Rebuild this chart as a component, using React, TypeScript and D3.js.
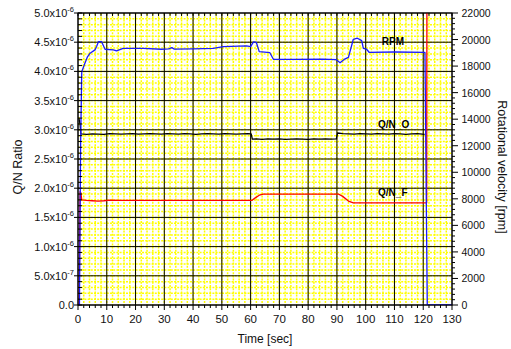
import * as d3 from 'd3';
import React, { useEffect, useRef } from 'react';

// Q/N ratio (x1e-6) and rotor speed over time
const rpmTime = [0, 0.5, 0.9, 1.3, 2.4, 3.3, 4.2, 5.9, 6.5, 7.1, 8.2, 9.4, 12.3, 13.4, 15.7, 22.7, 29, 31.5, 32.6, 33.5, 40, 47, 50.5, 58.6, 60, 61, 62, 63, 66.7, 67.9, 75, 85, 89.8, 91.1, 92.5, 94, 95.7, 97.1, 98.6, 99.2, 100.3, 101.2, 110, 120.6, 121.4, 130];
const rpmValue = [0, 0, 12000, 17580, 18210, 18700, 18970, 19220, 19500, 19840, 19840, 19270, 19220, 19140, 19340, 19340, 19270, 19300, 19390, 19280, 19300, 19340, 19470, 19520, 19470, 19820, 19780, 19090, 19010, 18510, 18500, 18520, 18480, 18260, 18500, 18660, 20020, 20100, 19920, 19340, 19270, 19040, 19060, 19040, 0, 0];

const qnoTime = [0.3, 0.7, 1.0, 3, 5, 7, 9, 11, 13, 15, 17, 19, 21, 23, 25, 27, 29, 31, 33, 35, 37, 39, 41, 43, 45, 47, 49, 51, 53, 55, 57, 59, 60.2, 60.6, 62, 64, 66, 68, 70, 72, 74, 76, 78, 80, 82, 84, 86, 88, 89.8, 90.2, 92, 94, 96, 98, 100, 102, 104, 106, 108, 110, 112, 114, 116, 118, 120.5];
const qnoValue = [3.2, 3.1, 2.93, 2.92, 2.93, 2.925, 2.92, 2.935, 2.93, 2.925, 2.93, 2.935, 2.925, 2.93, 2.935, 2.93, 2.925, 2.935, 2.93, 2.925, 2.935, 2.93, 2.92, 2.93, 2.935, 2.93, 2.925, 2.935, 2.93, 2.925, 2.93, 2.935, 2.93, 2.84, 2.845, 2.835, 2.845, 2.84, 2.845, 2.835, 2.84, 2.845, 2.84, 2.835, 2.845, 2.84, 2.845, 2.84, 2.845, 2.945, 2.935, 2.93, 2.925, 2.935, 2.93, 2.925, 2.935, 2.93, 2.925, 2.935, 2.93, 2.92, 2.93, 2.935, 2.92];

const qnfTime = [0.4, 0.7, 1.0, 1.3, 3, 5, 7, 9, 11, 15, 30, 45, 60.4, 61.5, 63, 64.4, 75, 90.5, 92, 94, 95.7, 110, 121.2, 121.3];
const qnfValue = [0, 1.94, 1.92, 1.8, 1.79, 1.785, 1.78, 1.785, 1.795, 1.793, 1.79, 1.79, 1.79, 1.83, 1.88, 1.9, 1.9, 1.9, 1.86, 1.78, 1.75, 1.75, 1.75, 6];

const xTicks = [0, 10, 20, 30, 40, 50, 60, 70, 80, 90, 100, 110, 120, 130];
const leftTicks = [0, 0.5, 1.0, 1.5, 2.0, 2.5, 3.0, 3.5, 4.0, 4.5, 5.0];
const leftTickText = ['0.0', '5.0x10', '1.0x10', '1.5x10', '2.0x10', '2.5x10', '3.0x10', '3.5x10', '4.0x10', '4.5x10', '5.0x10'];
const leftTickExp = ['', '-7', '-6', '-6', '-6', '-6', '-6', '-6', '-6', '-6', '-6'];
const rightTicks = [0, 2000, 4000, 6000, 8000, 10000, 12000, 14000, 16000, 18000, 20000, 22000];

const seriesLabels = [
    { text: 'RPM', t: 105.6, value: 19590, axis: 'right' },
    { text: 'Q/N_O', t: 104.3, value: 3.026, axis: 'left' },
    { text: 'Q/N_F', t: 104.3, value: 1.866, axis: 'left' },
];

const W = 511, H = 349;
const plot = { left: 78, right: 452, top: 13, bottom: 305 };
const font = '"Liberation Sans", Arial, sans-serif';

export default function App() {
    const svgRef = useRef<SVGSVGElement>(null);

    useEffect(() => {
        const svg = d3.select(svgRef.current);
        svg.selectAll('*').remove();

        const x = d3.scaleLinear().domain([0, 130]).range([plot.left, plot.right]);
        const yL = d3.scaleLinear().domain([0, 5]).range([plot.bottom, plot.top]);
        const yR = d3.scaleLinear().domain([0, 22000]).range([plot.bottom, plot.top]);

        svg.append('defs').append('clipPath').attr('id', 'plotclip')
            .append('rect')
            .attr('x', plot.left).attr('y', plot.top)
            .attr('width', plot.right - plot.left).attr('height', plot.bottom - plot.top);

        // yellow dotted minor mesh
        const mesh = svg.append('g').attr('stroke', '#ffff00').attr('stroke-width', 1.5).attr('stroke-dasharray', '2,1.2');
        mesh.selectAll('line.mx').data(d3.range(1, 65).map(i => i * 2)).enter().append('line')
            .attr('x1', d => x(d)).attr('x2', d => x(d)).attr('y1', plot.top).attr('y2', plot.bottom);
        mesh.selectAll('line.my').data(d3.range(1, 50).map(i => i * 0.1)).enter().append('line')
            .attr('y1', d => yL(d)).attr('y2', d => yL(d)).attr('x1', plot.left).attr('x2', plot.right);

        // major grid
        const grid = svg.append('g').attr('stroke', '#000').attr('stroke-width', 1);
        grid.selectAll('line.gx').data(xTicks).enter().append('line')
            .attr('x1', d => x(d)).attr('x2', d => x(d)).attr('y1', plot.top).attr('y2', plot.bottom);
        grid.selectAll('line.gy').data(leftTicks).enter().append('line')
            .attr('y1', d => yL(d)).attr('y2', d => yL(d)).attr('x1', plot.left).attr('x2', plot.right);

        // series
        const lines = svg.append('g').attr('clip-path', 'url(#plotclip)').attr('fill', 'none')
            .attr('stroke-width', 1.3).attr('stroke-linejoin', 'round');
        const lineL = d3.line<number>().x((d, i) => 0).y(d => 0);
        const path = (ts: number[], vs: number[], y: d3.ScaleLinear<number, number>) =>
            d3.line<number>().x((d, i) => x(ts[i])).y(d => y(d))(vs);
        lines.append('path').attr('stroke', '#000').attr('d', path(qnoTime, qnoValue, yL));
        lines.append('path').attr('stroke', '#ff0000').attr('d', path(qnfTime, qnfValue, yL));
        lines.append('path').attr('stroke', '#1a1aff').attr('d', path(rpmTime, rpmValue, yR));

        // frame + ticks
        const ax = svg.append('g').attr('stroke', '#000').attr('stroke-width', 1);
        ax.append('rect').attr('x', plot.left).attr('y', plot.top)
            .attr('width', plot.right - plot.left).attr('height', plot.bottom - plot.top).attr('fill', 'none');
        const xMinor = d3.range(0, 66).map(i => i * 2);
        ax.selectAll('line.bt').data(xMinor).enter().append('line')
            .attr('x1', d => x(d)).attr('x2', d => x(d))
            .attr('y1', plot.bottom).attr('y2', d => plot.bottom + (d % 10 === 0 ? 5 : 3));
        ax.selectAll('line.tt').data(xMinor).enter().append('line')
            .attr('x1', d => x(d)).attr('x2', d => x(d))
            .attr('y1', plot.top).attr('y2', plot.top + 3);
        const yMinor = d3.range(0, 51).map(i => i * 0.1);
        ax.selectAll('line.lt').data(yMinor).enter().append('line')
            .attr('y1', d => yL(d)).attr('y2', d => yL(d))
            .attr('x1', plot.left).attr('x2', plot.left + 4);
        ax.selectAll('line.lm').data(leftTicks).enter().append('line')
            .attr('y1', d => yL(d)).attr('y2', d => yL(d))
            .attr('x1', plot.left - 4).attr('x2', plot.left);
        const rMinor = d3.range(0, 56).map(i => i * 400);
        ax.selectAll('line.rt').data(rMinor).enter().append('line')
            .attr('y1', d => yR(d)).attr('y2', d => yR(d))
            .attr('x1', plot.right).attr('x2', d => plot.right + (d % 2000 === 0 ? 6 : 3));

        // tick labels
        const txt = svg.append('g').attr('font-family', font).attr('fill', '#111');
        txt.selectAll('text.xl').data(xTicks).enter().append('text')
            .attr('x', d => x(d)).attr('y', plot.bottom + 18)
            .attr('text-anchor', 'middle').attr('font-size', 11.5).text(d => d);
        const lt = txt.selectAll('text.yl').data(leftTicks).enter().append('text')
            .attr('x', plot.left - 4).attr('y', d => yL(d) + 4)
            .attr('text-anchor', 'end').attr('font-size', 11);
        lt.append('tspan').text((d, i) => leftTickText[i]);
        lt.append('tspan').attr('dy', -5).attr('font-size', 7.5).text((d, i) => leftTickExp[i]);
        txt.selectAll('text.yr').data(rightTicks).enter().append('text')
            .attr('x', plot.right + 9.5).attr('y', d => yR(d) + 4)
            .attr('font-size', 10.5).text(d => d);

        // axis titles
        txt.append('text').attr('x', 265).attr('y', 343).attr('text-anchor', 'middle')
            .attr('font-size', 12).text('Time [sec]');
        txt.append('text').attr('transform', 'translate(22,167) rotate(-90)').attr('text-anchor', 'middle')
            .attr('font-size', 12.5).text('Q/N Ratio');
        txt.append('text').attr('transform', 'translate(498,167) rotate(90)').attr('text-anchor', 'middle')
            .attr('font-size', 12.5).text('Rotational velocity [rpm]');

        // series annotations
        txt.selectAll('text.sl').data(seriesLabels).enter().append('text')
            .attr('x', d => x(d.t)).attr('y', d => (d.axis === 'left' ? yL(d.value) : yR(d.value)))
            .attr('font-size', 10).attr('font-weight', 'bold').attr('fill', '#000').text(d => d.text);
    }, []);

    return (
        <div style={{ position: 'absolute', left: 0, top: 0 }}>
            <svg ref={svgRef} width={W} height={H} style={{ display: 'block', background: '#fff' }} />
        </div>
    );
}
